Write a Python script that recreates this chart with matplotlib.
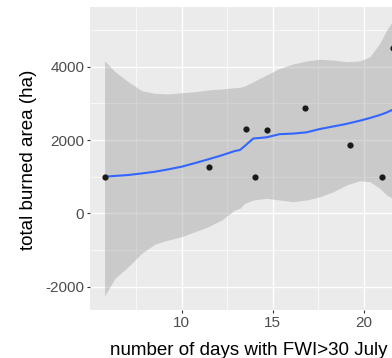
import numpy as np
import matplotlib
matplotlib.use('Agg')
import matplotlib.pyplot as plt
from matplotlib.ticker import FixedLocator

plt.rcParams['font.family'] = ['Liberation Sans', 'DejaVu Sans']
plt.rcParams['axes.unicode_minus'] = False

# observed points
days = [5.77, 11.5, 13.53, 14.02, 14.66, 16.76, 19.22, 20.99, 21.58]
area = [990, 1255, 2309, 982, 2273, 2865, 1855, 982, 4518]

# smoother with its confidence band
fit_x = [5.77, 6.34, 7.07, 7.81, 8.54, 9.27, 10.0, 10.73, 11.46, 12.19, 12.92, 13.2, 13.47,
         13.93, 14.66, 15.39, 16.12, 16.86, 17.59, 18.32, 19.05, 19.78, 20.33, 20.88, 21.25, 21.58]
fit_y = [999, 1020, 1045, 1088, 1135, 1200, 1272, 1370, 1473, 1580, 1700, 1727, 1840,
         2040, 2074, 2160, 2175, 2210, 2300, 2370, 2440, 2527, 2600, 2682, 2750, 2825]
band_lo = [-2256, -1774, -1457, -1091, -838, -729, -638, -502, -366, -183, 90, 136, 273,
           363, 409, 363, 317, 363, 453, 589, 772, 890, 862, 682, 499, 409]
band_hi = [4164, 3864, 3591, 3345, 3274, 3255, 3291, 3318, 3364, 3392, 3427, 3438, 3473,
           3591, 3774, 3956, 4074, 4156, 4202, 4183, 4137, 4156, 4273, 4638, 5001, 5250]

x_major = [10, 15, 20]
x_minor = [7.5, 12.5, 17.5]
y_major = [-2000, 0, 2000, 4000]
y_minor = [-1000, 1000, 3000, 5000]

W, H = 392, 358
fig = plt.figure(figsize=(W / 100, H / 100), dpi=100)
# panel runs off the right edge like the cropped original
ax = fig.add_axes([90 / W, 48 / H, 317 / W, 303 / H])
ax.set_facecolor('#EBEBEB')
for s in ax.spines.values():
    s.set_visible(False)

ax.fill_between(fit_x, band_lo, band_hi, color='#999999', alpha=0.4, lw=0, zorder=2)
ax.plot(fit_x, fit_y, color='#3366FF', lw=1.5, zorder=3, solid_capstyle='butt')
ax.scatter(days, area, s=20, color='#1a1a1a', lw=0, zorder=4)

ax.set_xlim(4.97, 22.37)
ax.set_ylim(-2638, 5629)
ax.xaxis.set_major_locator(FixedLocator(x_major))
ax.xaxis.set_minor_locator(FixedLocator(x_minor))
ax.yaxis.set_major_locator(FixedLocator(y_major))
ax.yaxis.set_minor_locator(FixedLocator(y_minor))
ax.grid(which='major', color='white', lw=1.0, zorder=0)
ax.grid(which='minor', color='white', lw=0.5, zorder=0)
ax.set_axisbelow(True)
ax.tick_params(which='major', length=2.2, width=0.8, color='#333333',
               labelcolor='#4D4D4D', labelsize=11, pad=2)
ax.tick_params(which='minor', length=0)

fig.text(248.5 / W, 1 - 355 / H, 'number of days with FWI>30 July', ha='center',
         va='baseline', fontsize=13.5, color='black')
fig.text(29 / W, 1 - 160 / H, 'total burned area (ha)', ha='center', va='center',
         rotation=90, fontsize=13.5, color='black')

fig.savefig('out.png', dpi=100)
